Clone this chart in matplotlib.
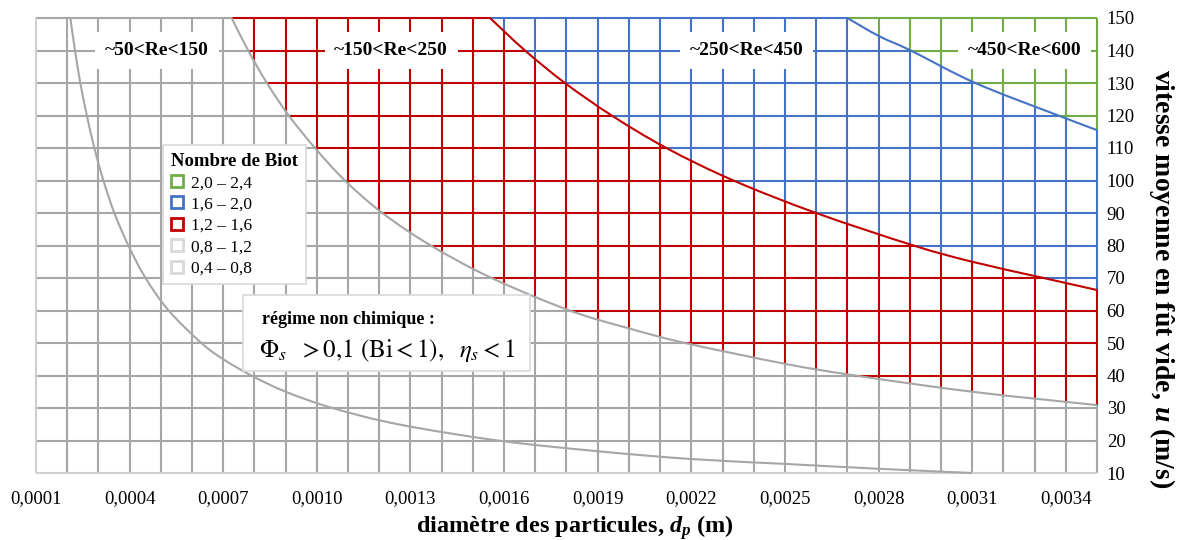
import matplotlib
matplotlib.use('Agg')
import matplotlib.pyplot as plt
import numpy as np
from matplotlib.collections import LineCollection
from matplotlib.lines import Line2D
from matplotlib.patches import Rectangle, PathPatch
from matplotlib.path import Path

plt.rcParams['font.family'] = ['Liberation Serif', 'DejaVu Serif']
plt.rcParams['mathtext.fontset'] = 'custom'
plt.rcParams['mathtext.it'] = 'Liberation Serif:bold:italic'
plt.rcParams['mathtext.rm'] = 'Liberation Serif:bold'
plt.rcParams['mathtext.bf'] = 'Liberation Serif:bold'

# ---------------- data ----------------
x_ticks = [0.0001, 0.0004, 0.0007, 0.0010, 0.0013, 0.0016, 0.0019,
           0.0022, 0.0025, 0.0028, 0.0031, 0.0034]
y_ticks = [10, 20, 30, 40, 50, 60, 70, 80, 90, 100, 110, 120, 130, 140, 150]

# contour Bi = 0.8
bi08_d = [0.00021, 0.000225, 0.000242, 0.000263, 0.000287, 0.000316, 0.000351,
          0.000396, 0.000451, 0.000525, 0.00063, 0.0007, 0.00079, 0.0009,
          0.00105, 0.00126, 0.00158, 0.0019, 0.0022, 0.0025, 0.0028, 0.0031]
bi08_u = [150, 140, 130, 120, 110, 100, 90, 80, 70, 60, 50, 45, 40, 35,
          30, 25, 20, 16.7, 14.3, 12.8, 11.3, 10]
# contour Bi = 1.2
bi12_d = [0.000727, 0.00078, 0.00084, 0.00091, 0.000994, 0.00109, 0.00121,
          0.001365, 0.00156, 0.00181, 0.002, 0.00218, 0.0025, 0.002725,
          0.0031, 0.0035]
bi12_u = [150, 140, 130, 120, 110, 100, 90, 80, 70, 60, 54.5, 50, 43.6, 40,
          35, 30.9]
# contour Bi = 1.6
bi16_d = [0.001555, 0.001667, 0.001795, 0.001945, 0.00212, 0.002335,
          0.0026, 0.002912, 0.0031, 0.003329, 0.0035]
bi16_u = [150, 140, 130, 120, 110, 100, 90, 80, 75, 70, 66.3]
# contour Bi = 2.0
bi20_d = [0.0027, 0.0028, 0.002903, 0.00311, 0.003376, 0.0035]
bi20_u = [150, 144.5, 140, 130, 120, 115.5]

biot_labels = ['2,0 – 2,4', '1,6 – 2,0', '1,2 – 1,6', '0,8 – 1,2', '0,4 – 0,8']
re_labels = ['~50<Re<150', '~150<Re<250', '~250<Re<450', '~450<Re<600']

# ---------------- styles ----------------
band_line_colors = ['#A6A6A6', '#A6A6A6', '#C00000', '#4472C4', '#70AD47']
legend_colors = ['#70AD47', '#4472C4', '#C00000', '#D9D9D9', '#D9D9D9']
curve_colors = ['#A6A6A6', '#A6A6A6', '#C00000', '#4472C4']
re_label_x = [0.000488, 0.001238, 0.002376, 0.003267]
re_label_y = 140

curves = [(bi08_d, bi08_u), (bi12_d, bi12_u), (bi16_d, bi16_u), (bi20_d, bi20_u)]

xmin, xmax = 0.0001, 0.0035
ymin, ymax = 10, 150

W, H = 1178, 540
fig = plt.figure(figsize=(W/100, H/100), dpi=100)
ax = fig.add_axes([36/W, 1-473/H, (1097-36)/W, (473-18)/H])
ax.set_xlim(xmin, xmax)
ax.set_ylim(ymin, ymax)


def band_of(d, u):
    d = np.asarray(d, float)
    u = np.asarray(u, float)
    b = np.zeros(np.broadcast(d, u).shape, dtype=int)
    for cd, cu in curves:
        lu = np.interp(np.log(d), np.log(cd), np.log(cu), left=np.inf, right=-np.inf)
        b = b + (np.log(u) > lu)
    return b


def runs(edges, bands):
    out = []
    start = 0
    for i in range(1, len(bands) + 1):
        if i == len(bands) or bands[i] != bands[start]:
            out.append((edges[start], edges[i], bands[start]))
            start = i
    return out


def smooth_path(xs, ys):
    # Catmull-Rom spline through the read points, as cubic Bezier segments
    P = np.column_stack([xs, ys]).astype(float)
    verts = [P[0]]
    codes = [Path.MOVETO]
    n = len(P)
    for i in range(n - 1):
        p0 = P[i - 1] if i > 0 else P[i]
        p1, p2 = P[i], P[i + 1]
        p3 = P[i + 2] if i + 2 < n else P[i + 1]
        verts += [p1 + (p2 - p0) / 6, p2 - (p3 - p1) / 6, p2]
        codes += [Path.CURVE4] * 3
    return Path(verts, codes)


N = 1400
segs = {k: [] for k in range(5)}
edge_segs = []
grid_x = np.round(np.arange(xmin, xmax + 1e-9, 0.0001), 6)
grid_y = np.arange(ymin, ymax + 1, 10)
u_edges = np.linspace(ymin, ymax, N + 1)
u_mid = 0.5 * (u_edges[1:] + u_edges[:-1])
for gx in grid_x:
    b = band_of(np.full_like(u_mid, gx), u_mid)
    for a, c, k in runs(u_edges, b):
        if np.isclose(gx, xmin):
            edge_segs.append([(gx, a), (gx, c)])
        else:
            segs[k].append([(gx, a), (gx, c)])
d_edges = np.linspace(xmin, xmax, N + 1)
d_mid = 0.5 * (d_edges[1:] + d_edges[:-1])
for gy in grid_y:
    b = band_of(d_mid, np.full_like(d_mid, gy))
    for a, c, k in runs(d_edges, b):
        if gy == ymin:
            edge_segs.append([(a, gy), (c, gy)])
        else:
            segs[k].append([(a, gy), (c, gy)])

for k in range(5):
    lc = LineCollection(segs[k], colors=band_line_colors[k], linewidths=1.5,
                        zorder=1, clip_on=False, capstyle='butt')
    ax.add_collection(lc)
ax.add_collection(LineCollection(edge_segs, colors='#CFCFCF', linewidths=1.5,
                                 zorder=1, clip_on=False))

for (cd, cu), col in zip(curves, curve_colors):
    ax.add_patch(PathPatch(smooth_path(cd, cu), facecolor='none',
                           edgecolor=col, lw=1.5, zorder=2, clip_on=False))

for txt, xx in zip(re_labels, re_label_x):
    ax.text(xx, re_label_y, txt, ha='center', va='center', fontsize=14,
            fontweight='bold', zorder=4,
            bbox=dict(boxstyle='square,pad=0.5', facecolor='white',
                      edgecolor='none'))

for s in ax.spines.values():
    s.set_visible(False)

ax.set_xticks(x_ticks)
ax.set_xticklabels([f'{v:.4f}'.replace('.', ',') for v in x_ticks], fontsize=13.5)
ax.yaxis.tick_right()
ax.set_yticks(y_ticks)
ax.set_yticklabels([str(v) for v in y_ticks], fontsize=13.5)
ax.tick_params(axis='both', length=0)
ax.tick_params(axis='x', pad=12)
ax.tick_params(axis='y', pad=7)

fig.text(575/W, 1-533/H, 'diamètre des particules, $d_p$ (m)', fontsize=17.5,
         fontweight='bold', ha='center', va='baseline')
fig.text(1162/W, 1-279/H, 'vitesse moyenne en fût vide, $u$ (m/s)',
         fontsize=20, fontweight='bold', rotation=-90, ha='center',
         va='center')

handles = [Line2D([], [], marker='s', ls='none', markerfacecolor='white',
                  markeredgecolor=c, markersize=8, markeredgewidth=2)
           for c in legend_colors]
leg = ax.legend(handles, biot_labels, loc='upper left',
                bbox_to_anchor=((163-36)/1061, 1-(145-18)/455),
                borderaxespad=0, fontsize=12.5, title='Nombre de Biot',
                title_fontproperties={'weight': 'bold', 'size': 13.5},
                alignment='left', frameon=True, fancybox=False, framealpha=1,
                edgecolor='#D9D9D9', handlelength=0.7, handletextpad=0.45,
                labelspacing=0.3, borderpad=0.45)
leg.set_zorder(6)
leg.get_frame().set_linewidth(1.2)

x0, x1 = (243-36)/1061, (530-36)/1061
y1, y0 = 1-(295-18)/455, 1-(371-18)/455
ax.add_patch(Rectangle((x0, y0), x1-x0, y1-y0, transform=ax.transAxes,
                       facecolor='white', edgecolor='#D9D9D9', lw=1.2,
                       zorder=6, clip_on=False))
ax.text((262-36)/1061, 1-(320-18)/455, 'régime non chimique :',
        transform=ax.transAxes, fontsize=13, fontweight='bold',
        ha='left', va='center', zorder=7)
ax.text((259-36)/1061, 1-(351-18)/455,
        r'$\Phi_s\ \ > 0{,}1\ (\mathrm{Bi} < 1),\ \ \eta_s < 1$',
        transform=ax.transAxes, fontsize=18, ha='left', va='center',
        zorder=7, math_fontfamily='stix')

fig.savefig('out.png', dpi=100)
